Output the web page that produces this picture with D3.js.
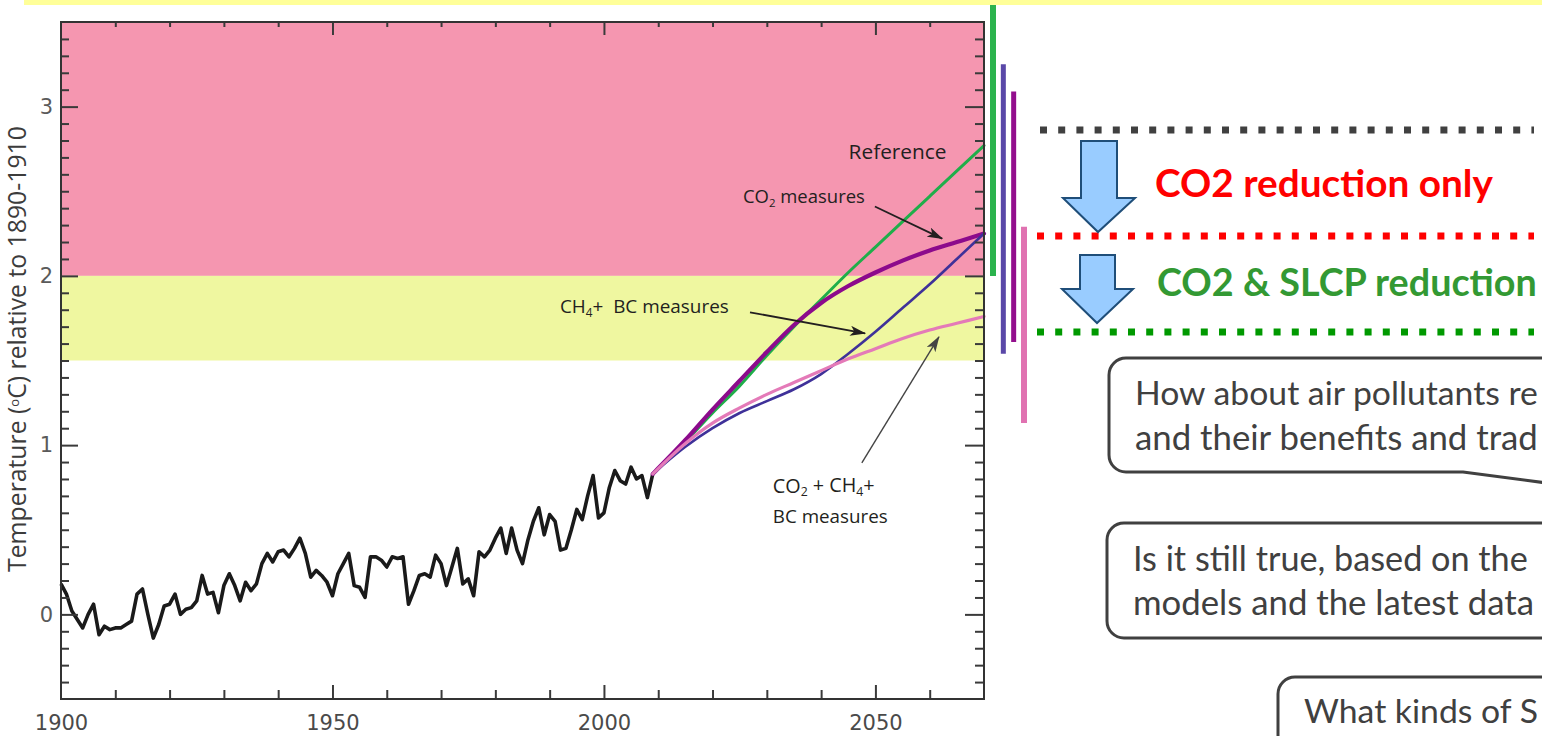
<!DOCTYPE html>
<html><head><meta charset="utf-8">
<script src="https://cdn.jsdelivr.net/npm/d3@7/dist/d3.min.js"></script>
<style>html,body{margin:0;padding:0;background:#fff;overflow:hidden}svg{display:block}</style>
</head><body>
<svg id="chart" width="1542" height="736"></svg>
<script>
// ---------------- DATA ----------------
const histYears = d3.range(1900, 2010);
const histTemp = [
  0.18, 0.12, 0.02, -0.03, -0.08, 0.00, 0.06, -0.12, -0.07, -0.09,
  -0.08, -0.08, -0.06, -0.04, 0.12, 0.15, 0.00, -0.14, -0.06, 0.05,
  0.06, 0.12, 0.00, 0.03, 0.04, 0.08, 0.23, 0.12, 0.13, 0.01,
  0.17, 0.24, 0.17, 0.08, 0.19, 0.14, 0.18, 0.30, 0.36, 0.31,
  0.37, 0.38, 0.34, 0.39, 0.45, 0.36, 0.22, 0.26, 0.23, 0.19,
  0.11, 0.24, 0.30, 0.36, 0.17, 0.16, 0.10, 0.34, 0.34, 0.32,
  0.28, 0.34, 0.33, 0.34, 0.06, 0.14, 0.23, 0.24, 0.22, 0.35,
  0.30, 0.17, 0.28, 0.39, 0.18, 0.21, 0.11, 0.37, 0.34, 0.38,
  0.45, 0.51, 0.36, 0.51, 0.38, 0.30, 0.44, 0.55, 0.63, 0.47,
  0.59, 0.55, 0.38, 0.39, 0.50, 0.62, 0.56, 0.70, 0.82, 0.57,
  0.60, 0.75, 0.85, 0.79, 0.77, 0.87, 0.80, 0.82, 0.69, 0.83
];
const projYears     = [2009, 2015, 2020, 2025, 2030, 2035, 2040, 2045, 2050, 2055, 2060, 2065, 2070];
const referenceTemp = [0.83, 1.02, 1.19, 1.35, 1.53, 1.70, 1.86, 2.02, 2.17, 2.32, 2.47, 2.62, 2.77];
const co2Temp       = [0.83, 1.03, 1.21, 1.38, 1.55, 1.71, 1.84, 1.94, 2.02, 2.09, 2.15, 2.20, 2.25];
const ch4bcTemp     = [0.83, 0.99, 1.10, 1.19, 1.26, 1.33, 1.42, 1.54, 1.67, 1.81, 1.95, 2.10, 2.25];
const allTemp       = [0.83, 1.01, 1.13, 1.22, 1.30, 1.37, 1.44, 1.51, 1.57, 1.63, 1.68, 1.72, 1.76];

const rangeSeries = ["Reference", "CO2 measures", "CH4+BC measures", "CO2+CH4+BC measures"];
const rangeLow  = [2.00, 1.54, 1.61, 1.13];
const rangeHigh = [3.62, 3.25, 3.09, 2.29];

const zoneLow  = [2.0, 1.5];
const zoneHigh = [3.5, 2.0];

const xTickMajor = [1900, 1950, 2000, 2050];
const xTickMinor = [1910, 1920, 1930, 1940, 1960, 1970, 1980, 1990, 2010, 2020, 2030, 2040, 2060];
const yTickMajor = [0, 1, 2, 3];
const yTickMinor = d3.range(-4, 35).filter(i => i % 10 !== 0).map(i => i / 10);

// ---------------- STYLE ----------------
const zoneColors = ["#f596b0", "#eff7a0"];
const barColors  = ["#2bb34d", "#5a48a8", "#930f8d", "#e072b1"];
const axisColor = "#3a3a3a";

const svg = d3.select("#chart");
const x = d3.scaleLinear().domain([1900, 2070]).range([61, 984]);
const y = d3.scaleLinear().domain([-0.5, 3.5]).range([699, 22]);

// zones
svg.append("g").selectAll("rect").data(zoneLow).join("rect")
  .attr("x", x(1900)).attr("width", x(2070) - x(1900))
  .attr("y", (d, i) => y(zoneHigh[i]))
  .attr("height", (d, i) => y(d) - y(zoneHigh[i]))
  .attr("fill", (d, i) => zoneColors[i]);

// historical line
const line = d3.line().x(d => x(d[0])).y(d => y(d[1]));
svg.append("path")
  .datum(histYears.map((yr, i) => [yr, histTemp[i]]))
  .attr("d", line).attr("fill", "none")
  .attr("stroke", "#1a1a1a").attr("stroke-width", 3.6)
  .attr("stroke-linejoin", "round");

// projections
const curve = d3.line().curve(d3.curveMonotoneX).x(d => x(d[0])).y(d => y(d[1]));
const proj = [
  {v: referenceTemp, c: "#1fae4a", w: 3},
  {v: co2Temp, c: "#8c0a8c", w: 4.2},
  {v: ch4bcTemp, c: "#3f3199", w: 2.6},
  {v: allTemp, c: "#e47ab8", w: 3.2}
];
proj.forEach(p => {
  svg.append("path")
    .datum(projYears.map((yr, i) => [yr, p.v[i]]))
    .attr("d", curve).attr("fill", "none")
    .attr("stroke", p.c).attr("stroke-width", p.w)
    .attr("stroke-linecap", "round");
});

// axes ticks
function ticks(gen, tx, ty, vals, size) {
  return svg.append("g").attr("transform", `translate(${tx},${ty})`)
    .call(gen.tickValues(vals).tickSize(size).tickFormat(""))
    .call(g => g.select(".domain").remove())
    .call(g => g.selectAll("line").attr("stroke", axisColor).attr("stroke-width", 2));
}
ticks(d3.axisLeft(y), x(1900), 0, yTickMinor, -8);
ticks(d3.axisLeft(y), x(1900), 0, yTickMajor, -17);
ticks(d3.axisRight(y), x(2070), 0, yTickMinor, -9);
ticks(d3.axisRight(y), x(2070), 0, yTickMajor, -19);
ticks(d3.axisBottom(x), 0, y(-0.5), xTickMinor, -9);
ticks(d3.axisBottom(x), 0, y(-0.5), xTickMajor.slice(1), -14);
ticks(d3.axisTop(x), 0, y(3.5), xTickMinor, -5);
ticks(d3.axisTop(x), 0, y(3.5), xTickMajor.slice(1), -13);

// tick labels
svg.append("g").attr("transform", `translate(${x(1900)},0)`)
  .call(d3.axisLeft(y).tickValues(yTickMajor).tickSize(0).tickPadding(8).tickFormat(d3.format("d")))
  .call(g => g.select(".domain").remove())
  .call(g => g.selectAll("text").attr("font-family", "DejaVu Sans").attr("font-size", 21).attr("fill", "#5a5a5a"));
svg.append("g").attr("transform", `translate(0,${y(-0.5)})`)
  .call(d3.axisBottom(x).tickValues(xTickMajor).tickSize(0).tickPadding(16).tickFormat(d3.format("d")))
  .call(g => g.select(".domain").remove())
  .call(g => g.selectAll("text").attr("font-family", "DejaVu Sans").attr("font-size", 21).attr("fill", "#4a4a4a"));

// frame
svg.append("rect").attr("x", x(1900)).attr("y", y(3.5))
  .attr("width", x(2070) - x(1900)).attr("height", y(-0.5) - y(3.5))
  .attr("fill", "none").attr("stroke", "#333").attr("stroke-width", 2);

// y title
const yt = svg.append("text")
  .attr("transform", "translate(26,349) rotate(-90)")
  .attr("text-anchor", "middle").attr("font-family", "Open Sans")
  .attr("font-size", 20).attr("fill", "#3c3c3c");
yt.append("tspan").text("Temperature (");
yt.append("tspan").attr("font-size", 13).attr("dy", -7).text("o");
yt.append("tspan").attr("dy", 7).text("C) relative to 1890-1910");
{
  const w = yt.node().getComputedTextLength();
  yt.attr("font-size", 20 * 448 / w);
}

// range bars
const bx = d3.scalePoint().domain(rangeSeries).range([993, 1024]);
svg.append("g").selectAll("line").data(rangeSeries).join("line")
  .attr("x1", d => bx(d)).attr("x2", d => bx(d))
  .attr("y1", (d, i) => y(rangeHigh[i])).attr("y2", (d, i) => y(rangeLow[i]))
  .attr("stroke", (d, i) => barColors[i]).attr("stroke-width", (d, i) => i === 0 || i === 3 ? 6 : 5);

// top yellow band
svg.append("rect").attr("x", 24).attr("y", 0).attr("width", 1542 - 24).attr("height", 5).attr("fill", "#ffff99");

// chart annotations
const defs = svg.append("defs");
function marker(id, col) {
  defs.append("marker").attr("id", id).attr("viewBox", "0 0 16 10")
    .attr("refX", 15).attr("refY", 5).attr("markerWidth", 16).attr("markerHeight", 10)
    .attr("markerUnits", "userSpaceOnUse").attr("orient", "auto")
    .append("path").attr("d", "M0,0 L16,5 L0,10 L4,5 Z").attr("fill", col);
}
marker("ahDark", "#231f20");
marker("ahGray", "#444");

const labFont = "Open Sans";
const labCol = "#231f20";
const labs = svg.append("g").attr("font-family", labFont).attr("fill", labCol);

function sub(t, parts) {
  parts.forEach(p => {
    if (p.s) t.append("tspan").attr("font-size", "0.62em").attr("dy", "0.3em").text(p.s);
    else t.append("tspan").attr("dy", p.after ? "-0.19em" : null).text(p.t);
  });
}
function fitText(t, target, base) {
  base = base || 19;
  t.attr("font-size", base);
  const w = t.node().getComputedTextLength();
  t.attr("font-size", base * target / w);
}
const tRef = labs.append("text").attr("x", x(2063.1)).attr("y", y(2.69)).attr("text-anchor", "end").text("Reference");
fitText(tRef, 98);
const tCO2 = labs.append("text").attr("x", x(2025.6)).attr("y", y(2.43));
sub(tCO2, [{t: "CO"}, {s: "2"}, {t: " measures", after: true}]);
fitText(tCO2, 122);
const tCH4 = labs.append("text").attr("x", x(1991.9)).attr("y", y(1.78)).attr("xml:space", "preserve");
sub(tCH4, [{t: "CH"}, {s: "4"}, {t: "+  BC measures", after: true}]);
fitText(tCH4, 169);
const tAll1 = labs.append("text").attr("x", x(2031.1)).attr("y", y(0.72));
sub(tAll1, [{t: "CO"}, {s: "2"}, {t: " + CH", after: true}, {s: "4"}, {t: "+", after: true}]);
fitText(tAll1, 102);
const tAll2 = labs.append("text").attr("x", x(2031.1)).attr("y", y(0.54)).text("BC measures");
fitText(tAll2, 115);

function arrow(x1, y1, x2, y2, col, id, w) {
  svg.append("line").attr("x1", x(x1)).attr("y1", y(y1)).attr("x2", x(x2)).attr("y2", y(y2))
    .attr("stroke", col).attr("stroke-width", w).attr("marker-end", `url(#${id})`);
}
arrow(2049.9, 2.41, 2062.3, 2.22, "#231f20", "ahDark", 1.8);
arrow(2026.9, 1.785, 2048.1, 1.66, "#231f20", "ahDark", 1.8);
arrow(2047.5, 0.895, 2061.7, 1.64, "#444", "ahGray", 1.4);

// ---------------- RIGHT-SIDE OVERLAY ----------------
const dots = [
  {y: 130, x1: 1040, c: "#404040"},
  {y: 236, x1: 1037, c: "#ff0000"},
  {y: 332, x1: 1037, c: "#009900"}
];
svg.append("g").selectAll("line").data(dots).join("line")
  .attr("x1", d => d.x1).attr("x2", 1534).attr("y1", d => d.y).attr("y2", d => d.y)
  .attr("stroke", d => d.c).attr("stroke-width", 7).attr("stroke-dasharray", "7 11.2");

function blockArrow(sl, sr, top, headY, hl, hr, tipX, tipY) {
  svg.append("path")
    .attr("d", `M${sl},${top} H${sr} V${headY} H${hr} L${tipX},${tipY} L${hl},${headY} H${sl} Z`)
    .attr("fill", "#99ccff").attr("stroke", "#1f4e79").attr("stroke-width", 2).attr("stroke-linejoin", "miter");
}
blockArrow(1081, 1117, 141, 198, 1063, 1135, 1098, 232);
blockArrow(1080, 1115, 255, 289, 1062, 1133, 1097, 323);

const hRed = svg.append("text").attr("x", 1155).attr("y", 197)
  .attr("font-family", "Lato").attr("font-weight", 700).attr("fill", "#ff0000").text("CO2 reduction only");
fitText(hRed, 338, 34);
const hGreen = svg.append("text").attr("x", 1157).attr("y", 296)
  .attr("font-family", "Lato").attr("font-weight", 700).attr("fill", "#339933").text("CO2 & SLCP reduction");
fitText(hGreen, 380, 34);

// callouts
const r = 17;
function bubble(x0, y0, y1, tail) {
  let d = `M1600,${y0} H${x0 + r} A${r},${r} 0 0 0 ${x0},${y0 + r}`;
  if (y1 === null) d += ` V760`;
  else {
    d += ` V${y1 - r} A${r},${r} 0 0 0 ${x0 + r},${y1}`;
    if (tail) d += ` H${tail[0]} L${tail[1]},${tail[2]}`;
    else d += ` H1600`;
  }
  svg.append("path").attr("d", d).attr("fill", "#fff")
    .attr("stroke", "#404040").attr("stroke-width", 3).attr("stroke-linejoin", "round");
}
bubble(1109, 358, 472, [1463, 1600, 490]);
bubble(1107, 523, 638, null);
bubble(1278, 677, null, null);

const cg = svg.append("g").attr("font-family", "Lato").attr("fill", "#404040");
const lines = [
  {x: 1135, y: 405, t: "How about air pollutants re", w: 403},
  {x: 1135, y: 450, t: "and their benefits and trad", w: 403},
  {x: 1133, y: 571, t: "Is it still true, based on the", w: 395},
  {x: 1133, y: 615, t: "models and the latest data", w: 401},
  {x: 1304, y: 723, t: "What kinds of S", w: 234}
];
cg.selectAll("text").data(lines).join("text")
  .attr("x", d => d.x).attr("y", d => d.y).text(d => d.t)
  .each(function(d) { fitText(d3.select(this), d.w, 33); });
</script>
</body></html>
